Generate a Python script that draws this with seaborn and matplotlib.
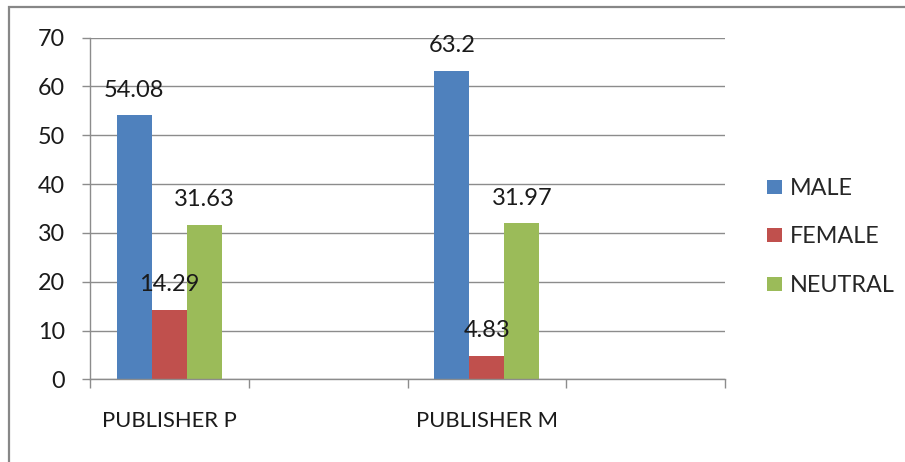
import numpy as np
import pandas as pd
import matplotlib
matplotlib.use("Agg")
import matplotlib.pyplot as plt
from matplotlib.patches import Rectangle
from matplotlib.ticker import FixedLocator
import seaborn as sns

# Category axis (two blank slots are part of the sheet's category range)
categories = ["PUBLISHER P", "", "PUBLISHER M", " "]
publishers = ["PUBLISHER P", "PUBLISHER M"]
series = ["MALE", "FEMALE", "NEUTRAL"]
male = [54.08, 63.2]
female = [14.29, 4.83]
neutral = [31.63, 31.97]
colors = ["#4F81BD", "#C0504D", "#9BBB59"]
y_ticks = [0, 10, 20, 30, 40, 50, 60, 70]

df = pd.DataFrame({
    "publisher": publishers * 3,
    "gender": [s for s in series for _ in publishers],
    "value": male + female + neutral,
})

sns.set_theme(style="white")
plt.rcParams["font.family"] = ["Lato", "DejaVu Sans"]

fig = plt.figure(figsize=(9.05, 4.62), dpi=100)
ax = fig.add_axes([90 / 905, 82.7 / 462, 635 / 905, 341.6 / 462])

grid_c = "#8c8c8c"
text_c = "#1a1a1a"
sns.barplot(data=df, x="publisher", y="value", hue="gender", order=categories,
            hue_order=series, palette=colors, width=0.662, gap=0,
            saturation=1, linewidth=0, ax=ax)

ax.set_xlim(-0.5, len(categories) - 0.5)
ax.set_ylim(0, 70)
ax.set_yticks(y_ticks)
ax.yaxis.grid(True, color=grid_c, linewidth=1.0)
ax.set_axisbelow(True)
ax.set_xlabel("")
ax.set_ylabel("")

for side in ["top", "right"]:
    ax.spines[side].set_visible(False)
for side in ["left", "bottom"]:
    ax.spines[side].set_color(grid_c)
    ax.spines[side].set_linewidth(1.0)

ax.tick_params(axis="y", which="major", length=6, width=1.0, color=grid_c,
               direction="out", pad=12, labelsize=16.8, labelcolor=text_c, left=True)
ax.set_xticks(range(len(categories)))
ax.set_xticklabels(categories)
ax.tick_params(axis="x", which="major", length=0, pad=23, labelsize=15.8,
               labelcolor=text_c)
ax.xaxis.set_minor_locator(FixedLocator(np.arange(-0.5, len(categories), 1.0)))
ax.tick_params(axis="x", which="minor", length=6.5, width=1.0, color=grid_c,
               direction="out", bottom=True)

for cont in ax.containers:
    ax.bar_label(cont, fmt="%g", padding=10.5, fontsize=17, color=text_c)

sns.move_legend(ax, "center left", bbox_to_anchor=(1.066, 0.4166), frameon=False,
                title=None, fontsize=16.8, borderaxespad=0, borderpad=0,
                handlelength=0.64, handleheight=0.55, handletextpad=0.34,
                labelspacing=1.18)

fig.add_artist(Rectangle((9 / 905, -0.5), 2.0, 1.5 - 7 / 462,
                         transform=fig.transFigure, fill=False,
                         edgecolor="#878787", linewidth=1.6))

fig.savefig("out.png", dpi=100)
